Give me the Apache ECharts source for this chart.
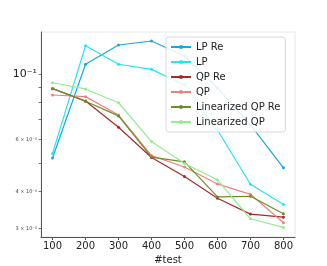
<!DOCTYPE html>
<html>
<head>
<meta charset="utf-8">
<script src="https://cdn.jsdelivr.net/npm/echarts@6/dist/echarts.min.js"></script>
<style>html,body{margin:0;padding:0;background:#fff}#c{width:327px;height:266px}</style>
</head>
<body>
<div id="c"></div>
<script>
var tests = [100, 200, 300, 400, 500, 600, 700, 800];
var lpRe = [0.0519, 0.1079, 0.1254, 0.1294, 0.1151, 0.0897, 0.0672, 0.0481];
var lp = [0.0538, 0.1247, 0.1079, 0.1037, 0.0918, 0.0646, 0.0423, 0.0361];
var qpRe = [0.0892, 0.0810, 0.0660, 0.0521, 0.0449, 0.0379, 0.0335, 0.0327];
var qp = [0.0849, 0.0838, 0.0726, 0.0529, 0.0484, 0.0424, 0.0391, 0.0313];
var linQpRe = [0.0893, 0.0808, 0.0721, 0.0523, 0.0504, 0.0383, 0.0385, 0.0336];
var linQp = [0.0934, 0.0890, 0.0799, 0.0590, 0.0497, 0.0438, 0.0323, 0.0302];
var xTicks = [100, 200, 300, 400, 500, 600, 700, 800];
var yTicks = [0.03, 0.04, 0.05, 0.06, 0.07, 0.08, 0.09, 0.1];
var yLabels = [0.03, 0.04, 0.06, 0.1];
var yLabelText = {'0.03': '3 × 10⁻²', '0.04': '4 × 10⁻²', '0.06': '6 × 10⁻²', '0.1': '10⁻¹'};

var names = ['LP Re', 'LP', 'QP Re', 'QP', 'Linearized QP Re', 'Linearized QP'];
var datas = [lpRe, lp, qpRe, qp, linQpRe, linQp];
var colors = ['#1aa6e6', '#22e6f0', '#a52a2a', '#f08080', '#6b8e23', '#90ee90'];

function pairs(arr) { return tests.map(function (t, i) { return [t, arr[i]]; }); }

var series = names.map(function (n, i) {
  return {
    name: n, type: 'line', data: pairs(datas[i]),
    symbol: 'circle', symbolSize: 3, showSymbol: true,
    lineStyle: { width: 1.2, color: colors[i] },
    itemStyle: { color: colors[i] },
    animation: false
  };
});

var chart = echarts.init(document.getElementById('c'), null, { renderer: 'canvas' });
chart.setOption({
  animation: false,
  backgroundColor: '#fff',
  grid: { left: 41, right: 32, top: 32, bottom: 29, containLabel: false, outerBoundsMode: 'none', show: true, borderColor: '#e6e6e6', borderWidth: 1 },
  legend: {
    orient: 'vertical', left: 166, top: 37,
    itemWidth: 20, itemHeight: 5, itemGap: 3,
    padding: [4, 5, 4, 4],
    backgroundColor: 'rgba(255,255,255,0.85)',
    borderColor: '#d8d8d8', borderWidth: 1, borderRadius: 3,
    textStyle: { fontFamily: 'DejaVu Sans', fontSize: 10, color: '#222', lineHeight: 12 },
    data: names
  },
  xAxis: {
    type: 'value', min: 65, max: 835,
    name: '#test', nameLocation: 'middle', nameGap: 14,
    nameTextStyle: { fontFamily: 'DejaVu Sans', fontSize: 10, color: '#222' },
    axisLine: { show: true, lineStyle: { color: '#555', width: 1 } },
    axisTick: { show: true, length: 3, customValues: xTicks, lineStyle: { color: '#555' } },
    axisLabel: { customValues: xTicks, fontFamily: 'DejaVu Sans', fontSize: 10, color: '#222', margin: 4 },
    splitLine: { show: false }
  },
  yAxis: {
    type: 'log', logBase: 10, min: 0.02802, max: 0.1388,
    name: 'FP/K', nameLocation: 'middle', nameGap: 25,
    nameTextStyle: { fontFamily: 'DejaVu Sans', fontSize: 10, color: '#222' },
    axisLine: { show: true, lineStyle: { color: '#555', width: 1 } },
    axisTick: { show: true, length: 2.5, customValues: yTicks, lineStyle: { color: '#777' } },
    axisLabel: {
      customValues: yLabels, margin: 4,
      formatter: function (v) {
        var key = String(Math.round(v * 100) / 100);
        var t = yLabelText[key] || '';
        return key === '0.1' ? '{a|' + t + '}' : '{b|' + t + '}';
      },
      rich: {
        a: { fontFamily: 'DejaVu Sans', fontSize: 11, color: '#222' },
        b: { fontFamily: 'DejaVu Sans', fontSize: 5, color: '#444' }
      }
    },
    splitLine: { show: false }
  },
  series: series
});
</script>
</body>
</html>
